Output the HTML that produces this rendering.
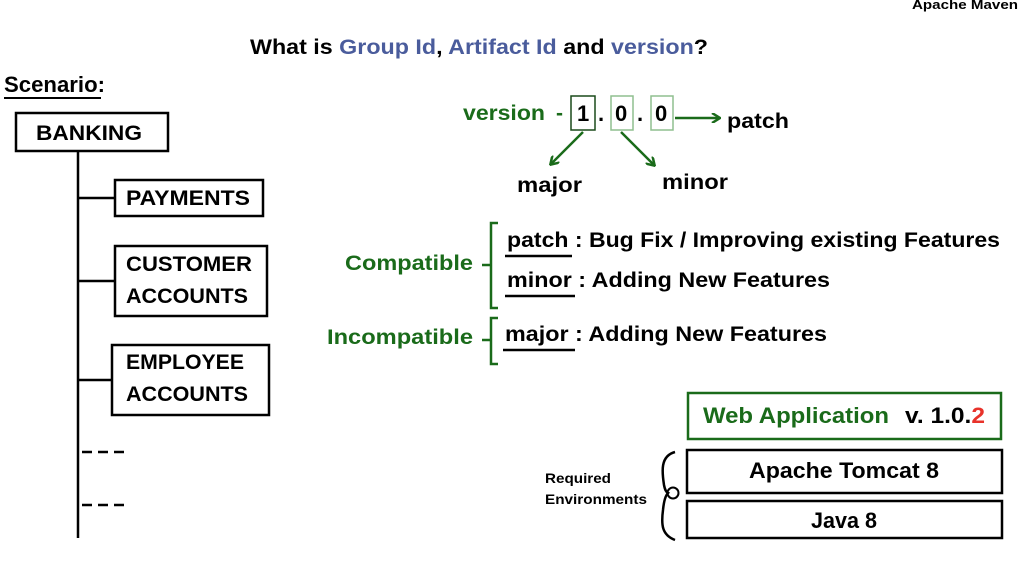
<!DOCTYPE html>
<html><head><meta charset="utf-8"><style>
html,body{margin:0;padding:0;background:#fff;width:1024px;height:561px;overflow:hidden}
svg text{font-family:"Liberation Sans",sans-serif;font-weight:bold}
</style></head><body>
<svg width="1024" height="561" viewBox="0 0 1024 561" xmlns="http://www.w3.org/2000/svg">
<defs>
<marker id="ah" markerWidth="10" markerHeight="10" refX="8" refY="5" orient="auto" markerUnits="userSpaceOnUse">
<path d="M1,0 L9,5 L1,10" fill="none" stroke="#1a6b1a" stroke-width="2.5"/>
</marker>
</defs>
<text x="912" y="9" font-size="13" textLength="106" lengthAdjust="spacingAndGlyphs">Apache Maven</text>
<text x="250" y="54" font-size="21" textLength="458" lengthAdjust="spacingAndGlyphs">What is <tspan fill="#4a5c9c">Group Id</tspan>, <tspan fill="#4a5c9c">Artifact Id</tspan> and <tspan fill="#4a5c9c">version</tspan>?</text>
<text x="4" y="92" font-size="22" textLength="101" lengthAdjust="spacingAndGlyphs">Scenario:</text>
<line x1="4" y1="98" x2="101" y2="98" stroke="#000" stroke-width="2"/>
<g fill="none" stroke="#000" stroke-width="2.5">
<rect x="16" y="113" width="152" height="38"/>
<line x1="78" y1="151" x2="78" y2="538"/>
<rect x="115" y="180" width="148" height="36"/>
<line x1="78" y1="198" x2="115" y2="198"/>
<rect x="115" y="246" width="152" height="70"/>
<line x1="78" y1="281" x2="115" y2="281"/>
<rect x="112" y="345" width="157" height="70"/>
<line x1="78" y1="380" x2="112" y2="380"/>
<line x1="82" y1="452" x2="124" y2="452" stroke-dasharray="10,6"/>
<line x1="82" y1="505" x2="124" y2="505" stroke-dasharray="10,6"/>
</g>
<g font-size="21">
<text x="36" y="140" textLength="106" lengthAdjust="spacingAndGlyphs">BANKING</text>
<text x="126" y="205" textLength="124" lengthAdjust="spacingAndGlyphs">PAYMENTS</text>
<text x="126" y="271" textLength="126" lengthAdjust="spacingAndGlyphs">CUSTOMER</text>
<text x="126" y="303" textLength="122" lengthAdjust="spacingAndGlyphs">ACCOUNTS</text>
<text x="126" y="369" textLength="118" lengthAdjust="spacingAndGlyphs">EMPLOYEE</text>
<text x="126" y="401" textLength="122" lengthAdjust="spacingAndGlyphs">ACCOUNTS</text>
</g>
<text x="463" y="120" font-size="21" fill="#1a6b1a" textLength="82" lengthAdjust="spacingAndGlyphs">version</text>
<text x="556" y="120" font-size="21" fill="#1a6b1a">-</text>
<rect x="571" y="96" width="24" height="34" fill="none" stroke="#1a4a1a" stroke-width="1.5"/>
<rect x="611" y="96" width="22" height="34" fill="none" stroke="#8fbf8f" stroke-width="1.5"/>
<rect x="651" y="96" width="22" height="34" fill="none" stroke="#8fbf8f" stroke-width="1.5"/>
<g font-size="22"><text x="577" y="121">1</text><text x="598" y="121">.</text><text x="615" y="121">0</text><text x="637" y="121">.</text><text x="655" y="121">0</text></g>
<g stroke="#1a6b1a" stroke-width="2.5" fill="none">
<line x1="675" y1="118" x2="719" y2="118" marker-end="url(#ah)"/>
<line x1="583" y1="132" x2="551" y2="164" marker-end="url(#ah)"/>
<line x1="621" y1="132" x2="654" y2="165" marker-end="url(#ah)"/>
</g>
<g font-size="21">
<text x="727" y="128" textLength="62" lengthAdjust="spacingAndGlyphs">patch</text>
<text x="517" y="192" textLength="65" lengthAdjust="spacingAndGlyphs">major</text>
<text x="662" y="189" textLength="66" lengthAdjust="spacingAndGlyphs">minor</text>
</g>
<g font-size="21" fill="#1a6b1a">
<text x="345" y="270" textLength="128" lengthAdjust="spacingAndGlyphs">Compatible</text>
<text x="327" y="344" textLength="146" lengthAdjust="spacingAndGlyphs">Incompatible</text>
</g>
<g fill="none" stroke="#1a6b1a" stroke-width="2.5">
<path d="M498,223 H491 V308 H498 M482,265 H491"/>
<path d="M498,318 H491 V364 H498 M482,340 H491"/>
</g>
<g font-size="21">
<text x="507" y="247" textLength="493" lengthAdjust="spacingAndGlyphs">patch : Bug Fix / Improving existing Features</text>
<text x="507" y="287" textLength="323" lengthAdjust="spacingAndGlyphs">minor : Adding New Features</text>
<text x="505" y="341" textLength="322" lengthAdjust="spacingAndGlyphs">major : Adding New Features</text>
</g>
<g stroke="#000" stroke-width="2.5">
<line x1="505" y1="256" x2="572" y2="256"/>
<line x1="505" y1="296" x2="575" y2="296"/>
<line x1="503" y1="350" x2="575" y2="350"/>
</g>
<rect x="688" y="393" width="313" height="46" fill="none" stroke="#1a6b1a" stroke-width="2.5"/>
<text x="703" y="423" font-size="22" fill="#1a6b1a" textLength="186" lengthAdjust="spacingAndGlyphs">Web Application</text>
<text x="905" y="423" font-size="22" textLength="80" lengthAdjust="spacingAndGlyphs">v. 1.0.<tspan fill="#e8322a">2</tspan></text>
<g fill="none" stroke="#000" stroke-width="2.5">
<rect x="687" y="450" width="315" height="43"/>
<rect x="687" y="501" width="315" height="37"/>
<path d="M675,452 C660,456 662,472 664,485 C665,490 666,492 668,493 C666,495 664,500 663,510 C661,525 662,535 675,540"/>
<circle cx="673" cy="493" r="5.5" stroke-width="2"/>
</g>
<text x="844" y="478" font-size="22" text-anchor="middle" textLength="190" lengthAdjust="spacingAndGlyphs">Apache Tomcat 8</text>
<text x="844" y="528" font-size="22" text-anchor="middle" textLength="66" lengthAdjust="spacingAndGlyphs">Java 8</text>
<text x="545" y="483" font-size="14" textLength="66" lengthAdjust="spacingAndGlyphs">Required</text>
<text x="545" y="504" font-size="14" textLength="102" lengthAdjust="spacingAndGlyphs">Environments</text>
</svg>
</body></html>
